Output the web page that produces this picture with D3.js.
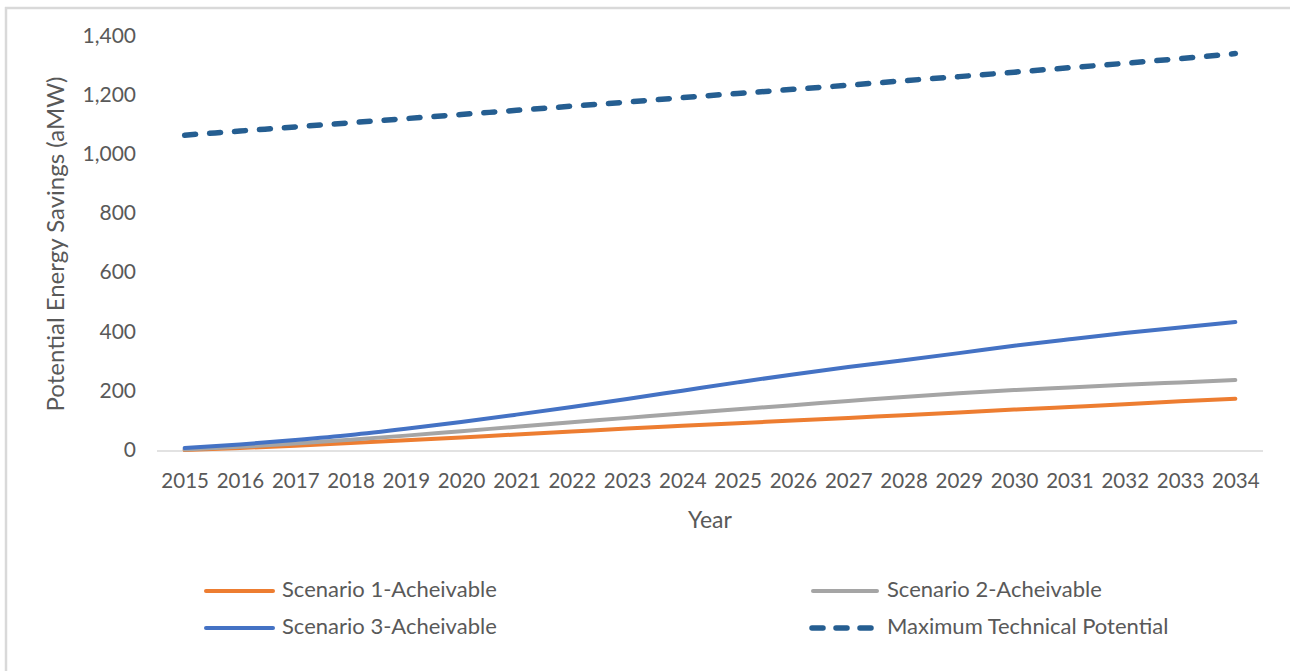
<!DOCTYPE html>
<html>
<head>
<meta charset="utf-8">
<script src="https://cdn.jsdelivr.net/npm/d3@7"></script>
<style>
  html, body { margin: 0; padding: 0; background: #ffffff; }
  svg { display: block; }
  text { font-family: Lato, "Open Sans", sans-serif; fill: #595959; }
</style>
</head>
<body>
<svg id="chart" width="1290" height="671"></svg>
<script>
const years = ["2015","2016","2017","2018","2019","2020","2021","2022","2023","2024",
               "2025","2026","2027","2028","2029","2030","2031","2032","2033","2034"];
const scenario1 = [3, 10, 18, 27, 36, 46, 56, 66, 76, 85, 94, 103, 112, 121, 130, 140, 149, 158, 168, 177];
const scenario2 = [5, 14, 25, 38, 52, 67, 82, 97, 112, 127, 141, 155, 169, 183, 195, 206, 215, 224, 232, 240];
const scenario3 = [10, 22, 37, 54, 75, 98, 123, 149, 176, 204, 232, 259, 284, 307, 331, 356, 378, 399, 418, 436];
const maxTechnical = [1068, 1082, 1096, 1110, 1124, 1138, 1152, 1166, 1180, 1195, 1209, 1223, 1237, 1252, 1266, 1281, 1296, 1311, 1327, 1344];
const yTicks = [0, 200, 400, 600, 800, 1000, 1200, 1400];
const seriesNames = ["Scenario 1-Acheivable", "Scenario 2-Acheivable", "Scenario 3-Acheivable", "Maximum Technical Potential"];

const series = [
  {name: seriesNames[0], values: scenario1, color: "#ED7D31", dash: null},
  {name: seriesNames[1], values: scenario2, color: "#A5A5A5", dash: null},
  {name: seriesNames[2], values: scenario3, color: "#4472C4", dash: null},
  {name: seriesNames[3], values: maxTechnical, color: "#255E91", dash: "11,14"}
];

const svg = d3.select("#chart");

// outer frame (left and top edges visible)
svg.append("line").attr("x1", 6).attr("x2", 6).attr("y1", 7).attr("y2", 671)
  .attr("stroke", "#d9d9d9").attr("stroke-width", 2.5);
svg.append("line").attr("x1", 5).attr("x2", 1290).attr("y1", 8).attr("y2", 8)
  .attr("stroke", "#d9d9d9").attr("stroke-width", 2.5);

const plot = {left: 157, right: 1263, top: 37, bottom: 451};

const x = d3.scalePoint().domain(years).range([plot.left, plot.right]).padding(0.5);
const y = d3.scaleLinear().domain([0, 1400]).range([plot.bottom, plot.top]);

// x axis line
svg.append("line")
  .attr("x1", plot.left).attr("x2", plot.right)
  .attr("y1", y(0)).attr("y2", y(0))
  .attr("stroke", "#d9d9d9").attr("stroke-width", 1.3);

// y tick labels
const yAxis = d3.axisLeft(y).tickValues(yTicks).tickSize(0).tickPadding(0)
  .tickFormat(d3.format(","));
const gy = svg.append("g").attr("transform", `translate(${136},0)`).call(yAxis);
gy.select(".domain").remove();
gy.selectAll("text").style("font-size", "21px").attr("fill", "#595959")
  .attr("dy", null).attr("dominant-baseline", "middle")
  .style("font-family", "Lato, sans-serif");

// x tick labels
const xAxis = d3.axisBottom(x).tickSize(0).tickPadding(0);
const gx = svg.append("g").attr("transform", `translate(0,${y(0)})`).call(xAxis);
gx.select(".domain").remove();
gx.selectAll("text").style("font-size", "20.5px").attr("fill", "#595959")
  .attr("dy", null).attr("y", 32).attr("dominant-baseline", "middle")
  .style("font-family", "Lato, sans-serif");

// axis titles
svg.append("text")
  .attr("transform", `translate(58,${244}) rotate(-90)`)
  .attr("text-anchor", "middle").attr("dominant-baseline", "middle")
  .style("font-size", "24px")
  .text("Potential Energy Savings (aMW)");

svg.append("text")
  .attr("x", (plot.left + plot.right) / 2).attr("y", 522)
  .attr("text-anchor", "middle").attr("dominant-baseline", "middle")
  .style("font-size", "23px")
  .text("Year");

// lines
const line = d3.line()
  .x((d, i) => x(years[i]))
  .y(d => y(d))
  .curve(d3.curveMonotoneX);

series.forEach(s => {
  svg.append("path")
    .datum(s.values)
    .attr("d", line)
    .attr("fill", "none")
    .attr("stroke", s.color)
    .attr("stroke-width", s.dash ? 5.5 : 4)
    .attr("stroke-linecap", "round")
    .attr("stroke-linejoin", "round")
    .attr("stroke-dasharray", s.dash);
});

// legend
const legendPos = [
  {x1: 206, x2: 273, tx: 282, ty: 591},
  {x1: 813, x2: 877, tx: 887, ty: 591},
  {x1: 206, x2: 273, tx: 282, ty: 628},
  {x1: 812, x2: 877, tx: 887, ty: 628}
];
series.forEach((s, i) => {
  const p = legendPos[i];
  svg.append("line")
    .attr("x1", p.x1).attr("x2", p.x2).attr("y1", p.ty).attr("y2", p.ty)
    .attr("stroke", s.color)
    .attr("stroke-width", s.dash ? 5.5 : 4)
    .attr("stroke-linecap", "round")
    .attr("stroke-dasharray", s.dash ? "11,13" : null);
  svg.append("text")
    .attr("x", p.tx).attr("y", p.ty)
    .attr("dominant-baseline", "middle")
    .style("font-size", "22px")
    .text(s.name);
});
</script>
</body>
</html>
